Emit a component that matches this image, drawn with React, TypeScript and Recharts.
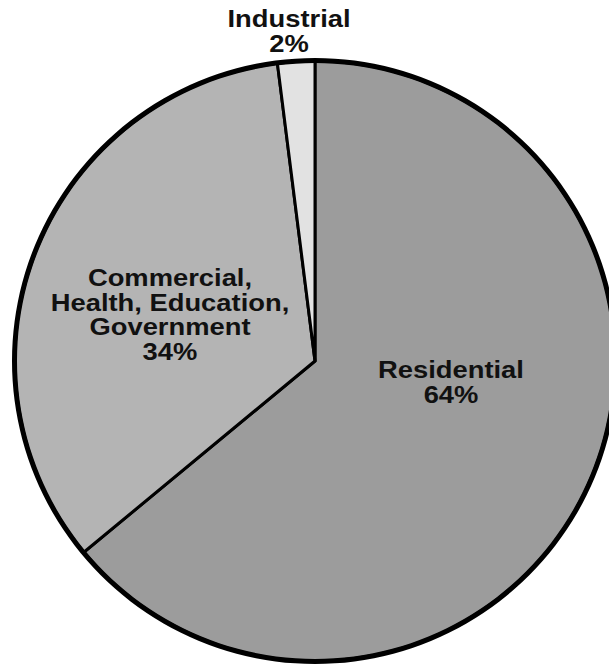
import { PieChart, Pie, Cell } from 'recharts';

const categories = ['Residential', 'Commercial, Health, Education, Government', 'Industrial'];
const shares = [64, 34, 2];
const labelLines = [['Residential'], ['Commercial,', 'Health, Education,', 'Government'], ['Industrial']];
const fills = ['#9c9c9c', '#b4b4b4', '#e2e2e2'];

// label anchor offsets from the pie centre (px), by slice index
const labelOffsets = [
  { dx: 136, dy: 17 },
  { dx: -145, dy: -75 },
  { dx: -26, dy: -334 },
];

const data = categories.map((name, i) => ({ name, value: shares[i] }));

const LINE = 24.7;
const STRETCH = 1.14;

function renderLabel(props: any) {
  const { cx, cy, index, value } = props;
  const off = labelOffsets[index];
  const lines = [...labelLines[index], `${value}%`];
  const x = cx + off.dx;
  const y0 = cy + off.dy;
  return (
    <text
      key={`lbl-${index}`}
      x={x}
      y={y0}
      textAnchor="middle"
      fill="#111"
      fontFamily="'Liberation Sans', Arial, sans-serif"
      fontWeight="bold"
      fontSize={24}
      transform={`translate(${x},0) scale(${STRETCH},1) translate(${-x},0)`}
    >
      {lines.map((t, j) => (
        <tspan key={j} x={x} y={y0 + j * LINE}>
          {t}
        </tspan>
      ))}
    </text>
  );
}

export default function App() {
  return (
    <div style={{ position: 'absolute', left: 0, top: 0, background: '#fff' }}>
      <PieChart width={609} height={667} margin={{ top: 0, right: 0, bottom: 0, left: 0 }}>
        <Pie
          data={data}
          dataKey="value"
          nameKey="name"
          cx={315}
          cy={361}
          outerRadius={300}
          startAngle={90}
          endAngle={-270}
          stroke="#000"
          strokeWidth={3}
          label={renderLabel}
          labelLine={false}
          isAnimationActive={false}
        >
          {data.map((d, i) => (
            <Cell key={d.name} fill={fills[i]} />
          ))}
        </Pie>
        <Pie
          data={[{ name: 'rim', value: 1 }]}
          dataKey="value"
          cx={315}
          cy={361}
          innerRadius={298}
          outerRadius={303}
          startAngle={90}
          endAngle={-270}
          fill="#000"
          stroke="none"
          isAnimationActive={false}
        />
      </PieChart>
    </div>
  );
}
